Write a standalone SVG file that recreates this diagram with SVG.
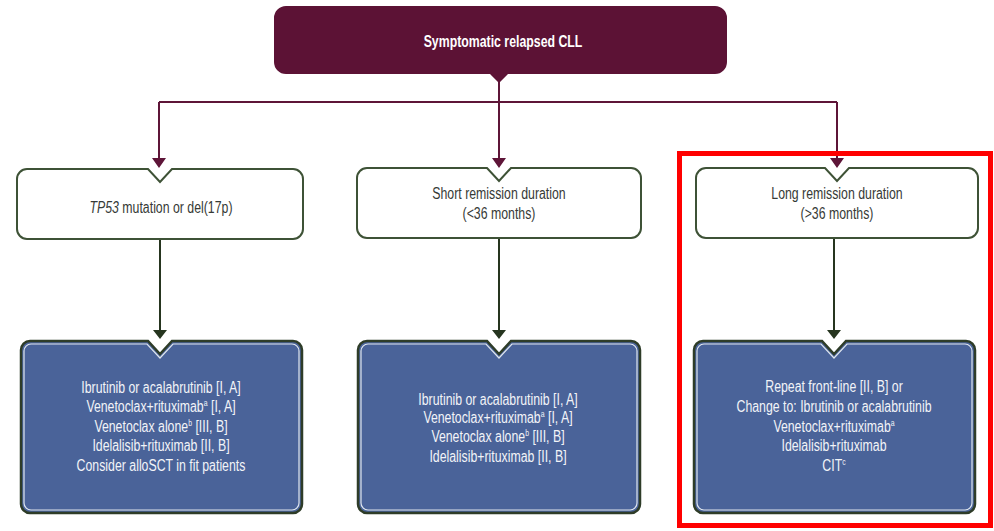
<svg xmlns="http://www.w3.org/2000/svg" width="994" height="531" viewBox="0 0 994 531">
<defs>
<style>
.t{font-family:"Liberation Sans",Arial,sans-serif;text-anchor:middle}
.title{font-size:16px;font-weight:bold;fill:#ffffff}
.l1{font-size:16px;fill:#363a36}
.l2{font-size:16px;fill:#f2f4f8}
.sup{font-size:9px}
.wbox{fill:#ffffff;stroke:#3e5236;stroke-width:2}
.bbox{fill:#4a6399;stroke:#2e3c28;stroke-width:2.5}
.binner{fill:none;stroke:#dfe6ee;stroke-width:1.2}
.cm{fill:none;stroke:#5e1538;stroke-width:2}
.cg{fill:none;stroke:#26351f;stroke-width:2}
</style>
</defs>
<rect width="994" height="531" fill="#ffffff"/>

<g id="connectors">
<path class="cm" d="M499,80 V160"/>
<path class="cm" d="M159,102 H837"/>
<path class="cm" d="M159,102 V160"/>
<path class="cm" d="M837,102 V160"/>
<path d="M152,158 L166,158 L159,168 Z M492,158 L506,158 L499,168 Z M830,158 L844,158 L837,168 Z" fill="#5e1538"/>
<path class="cg" d="M160,239 V332"/>
<path class="cg" d="M499,238 V332"/>
<path class="cg" d="M834,238 V332"/>
<path d="M153,330 L167,330 L160,339 Z M492,330 L506,330 L499,339 Z M827,330 L841,330 L834,339 Z" fill="#26351f"/>
</g>

<g id="n-top">
<path d="M286,6 H715 A12,12 0 0 1 727,18 V62 A12,12 0 0 1 715,74 H508 L499,83 L490,74 H286 A12,12 0 0 1 274,62 V18 A12,12 0 0 1 286,6 Z" fill="#5c1235"/>
<g transform="translate(503,0) scale(0.77,1)"><text class="t title" x="0" y="47">Symptomatic relapsed CLL</text></g>
</g>

<g id="n-tp53">
<path class="wbox" d="M27,169 H148 L160,182 L172,169 H293 A10,10 0 0 1 303,179 V229 A10,10 0 0 1 293,239 H27 A10,10 0 0 1 17,229 V179 A10,10 0 0 1 27,169 Z"/>
<g transform="translate(161,0) scale(0.77,1)"><text class="t l1" x="0" y="213"><tspan font-style="italic">TP53</tspan> mutation or del(17p)</text></g>
</g>

<g id="n-short">
<path class="wbox" d="M367,168 H487 L499,181 L511,168 H631 A10,10 0 0 1 641,178 V228 A10,10 0 0 1 631,238 H367 A10,10 0 0 1 357,228 V178 A10,10 0 0 1 367,168 Z"/>
<g transform="translate(499,0) scale(0.77,1)">
<text class="t l1" x="0" y="199">Short remission duration</text>
<text class="t l1" x="0" y="219">(&lt;36 months)</text>
</g>
</g>

<g id="n-long">
<path class="wbox" d="M706,168 H825 L837,181 L849,168 H968 A10,10 0 0 1 978,178 V228 A10,10 0 0 1 968,238 H706 A10,10 0 0 1 696,228 V178 A10,10 0 0 1 706,168 Z"/>
<g transform="translate(837,0) scale(0.77,1)">
<text class="t l1" x="0" y="199">Long remission duration</text>
<text class="t l1" x="0" y="219">(&gt;36 months)</text>
</g>
</g>

<g id="n-tx1">
<path class="bbox" d="M30,341 H148 L160,354 L172,341 H293 A9,9 0 0 1 302,350 V504 A9,9 0 0 1 293,513 H30 A9,9 0 0 1 21,504 V350 A9,9 0 0 1 30,341 Z"/>
<path class="binner" d="M31,344 H147 L160,358 L173,344 H292 A7,7 0 0 1 299,351 V503 A7,7 0 0 1 292,510 H31 A7,7 0 0 1 24,503 V351 A7,7 0 0 1 31,344 Z"/>
<g transform="translate(161,0) scale(0.77,1)">
<text class="t l2" x="0" y="393">Ibrutinib or acalabrutinib [I, A]</text>
<text class="t l2" x="0" y="412">Venetoclax+rituximab<tspan class="sup" dy="-6">a</tspan><tspan dy="6"> [I, A]</tspan></text>
<text class="t l2" x="0" y="432">Venetoclax alone<tspan class="sup" dy="-6">b</tspan><tspan dy="6"> [III, B]</tspan></text>
<text class="t l2" x="0" y="451">Idelalisib+rituximab [II, B]</text>
<text class="t l2" x="0" y="471">Consider alloSCT in fit patients</text>
</g>
</g>

<g id="n-tx2">
<path class="bbox" d="M367,341 H487 L499,354 L511,341 H631 A9,9 0 0 1 640,350 V504 A9,9 0 0 1 631,513 H367 A9,9 0 0 1 358,504 V350 A9,9 0 0 1 367,341 Z"/>
<path class="binner" d="M368,344 H486 L499,358 L512,344 H630 A7,7 0 0 1 637,351 V503 A7,7 0 0 1 630,510 H368 A7,7 0 0 1 361,503 V351 A7,7 0 0 1 368,344 Z"/>
<g transform="translate(498,0) scale(0.77,1)">
<text class="t l2" x="0" y="405">Ibrutinib or acalabrutinib [I, A]</text>
<text class="t l2" x="0" y="423">Venetoclax+rituximab<tspan class="sup" dy="-6">a</tspan><tspan dy="6"> [I, A]</tspan></text>
<text class="t l2" x="0" y="442">Venetoclax alone<tspan class="sup" dy="-6">b</tspan><tspan dy="6"> [III, B]</tspan></text>
<text class="t l2" x="0" y="462">Idelalisib+rituximab [II, B]</text>
</g>
</g>

<g id="n-tx3">
<path class="bbox" d="M703,341 H822 L834,354 L846,341 H966 A9,9 0 0 1 975,350 V504 A9,9 0 0 1 966,513 H703 A9,9 0 0 1 694,504 V350 A9,9 0 0 1 703,341 Z"/>
<path class="binner" d="M704,344 H821 L834,358 L847,344 H965 A7,7 0 0 1 972,351 V503 A7,7 0 0 1 965,510 H704 A7,7 0 0 1 697,503 V351 A7,7 0 0 1 704,344 Z"/>
<g transform="translate(834,0) scale(0.77,1)">
<text class="t l2" x="0" y="392">Repeat front-line [II, B] or</text>
<text class="t l2" x="0" y="412">Change to: Ibrutinib or acalabrutinib</text>
<text class="t l2" x="0" y="432">Venetoclax+rituximab<tspan class="sup" dy="-6">a</tspan></text>
<text class="t l2" x="0" y="451">Idelalisib+rituximab</text>
<text class="t l2" x="0" y="471">CIT<tspan class="sup" dy="-6">c</tspan></text>
</g>
</g>

<rect x="679.5" y="153.5" width="311" height="372" fill="none" stroke="#ff0000" stroke-width="5"/>
</svg>
